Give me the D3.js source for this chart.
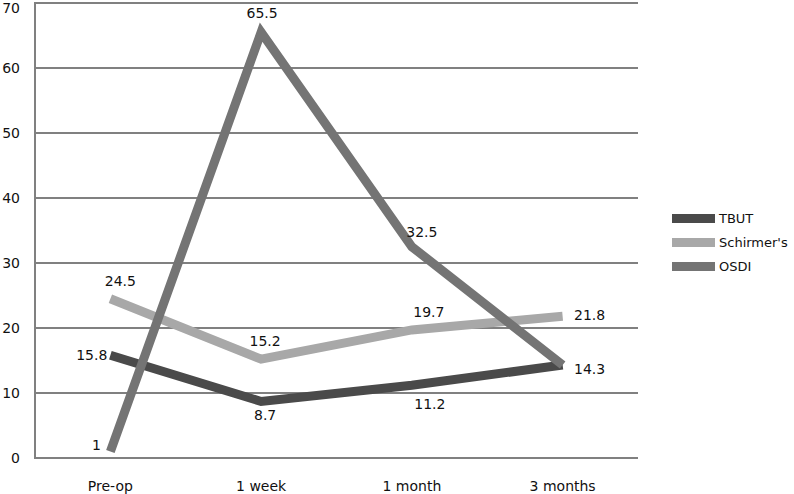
<!DOCTYPE html>
<html><head><meta charset="utf-8">
<script src="https://cdn.jsdelivr.net/npm/d3@7"></script>
<style>body{margin:0;background:#fff}svg{display:block}text{font-family:"DejaVu Sans",sans-serif;fill:#111}</style>
</head><body><svg id="c" width="794" height="494"></svg>
<script>
const categories = ["Pre-op","1 week","1 month","3 months"];
const seriesNames = ["TBUT","Schirmer's","OSDI"];
const tbut = [15.8, 8.7, 11.2, 14.3];
const schirmer = [24.5, 15.2, 19.7, 21.8];
const osdi = [1, 65.5, 32.5, 14.3];
const yTicks = [0,10,20,30,40,50,60,70];
const colors = ["#4a4a4a","#a8a8a8","#747474"];

const series = [
  {name:seriesNames[0], values:tbut, color:colors[0],
   lab:[{dx:-3,dy:5,a:"end"},{dx:4,dy:19,a:"middle"},{dx:18,dy:24,a:"middle"},{dx:27,dy:9,a:"middle"}]},
  {name:seriesNames[1], values:schirmer, color:colors[1],
   lab:[{dx:10,dy:-13,a:"middle"},{dx:4,dy:-13,a:"middle"},{dx:17,dy:-13,a:"middle"},{dx:27,dy:4,a:"middle"}]},
  {name:seriesNames[2], values:osdi, color:colors[2],
   lab:[{dx:-14,dy:-2,a:"middle"},{dx:1,dy:-14,a:"middle"},{dx:10,dy:-10,a:"middle"},null]}
];

const svg = d3.select("#c");
const x = d3.scaleBand().domain(categories).range([35,638]);
const y = d3.scaleLinear().domain([0,70]).range([458,3]);

svg.append("g").selectAll("line").data(yTicks).join("line")
  .attr("x1",35).attr("x2",638).attr("y1",d=>y(d)).attr("y2",d=>y(d))
  .attr("stroke","#808080").attr("stroke-width",2);
svg.append("line").attr("x1",35).attr("x2",35).attr("y1",y(70)-1).attr("y2",y(0)+1)
  .attr("stroke","#808080").attr("stroke-width",2);

svg.append("g").selectAll("text").data(yTicks).join("text")
  .attr("x",20).attr("y",d=>Math.max(y(d)+5,13)).attr("text-anchor","end")
  .attr("font-size",14).text(d=>d);

svg.append("g").selectAll("text").data(categories).join("text")
  .attr("x",d=>x(d)+x.bandwidth()/2).attr("y",491).attr("text-anchor","middle")
  .attr("font-size",14).text(d=>d);

const line = d3.line().x((d,i)=>x(categories[i])+x.bandwidth()/2).y(d=>y(d));

series.forEach(s=>{
  svg.append("path").attr("d",line(s.values)).attr("fill","none")
    .attr("stroke",s.color).attr("stroke-width",9).attr("stroke-linejoin","miter")
    .attr("stroke-miterlimit",3);
});
series.forEach(s=>{
  s.values.forEach((v,i)=>{
    const l = s.lab[i]; if(!l) return;
    svg.append("text").attr("x",x(categories[i])+x.bandwidth()/2+l.dx).attr("y",y(v)+l.dy)
      .attr("text-anchor",l.a).attr("font-size",14).text(v);
  });
});

const lg = svg.append("g");
series.forEach((s,i)=>{
  const yy = 218 + i*24;
  lg.append("rect").attr("x",672).attr("y",yy-4).attr("width",43).attr("height",9).attr("fill",s.color);
  lg.append("text").attr("x",719).attr("y",yy+5).attr("font-size",13).text(s.name);
});
</script></body></html>
